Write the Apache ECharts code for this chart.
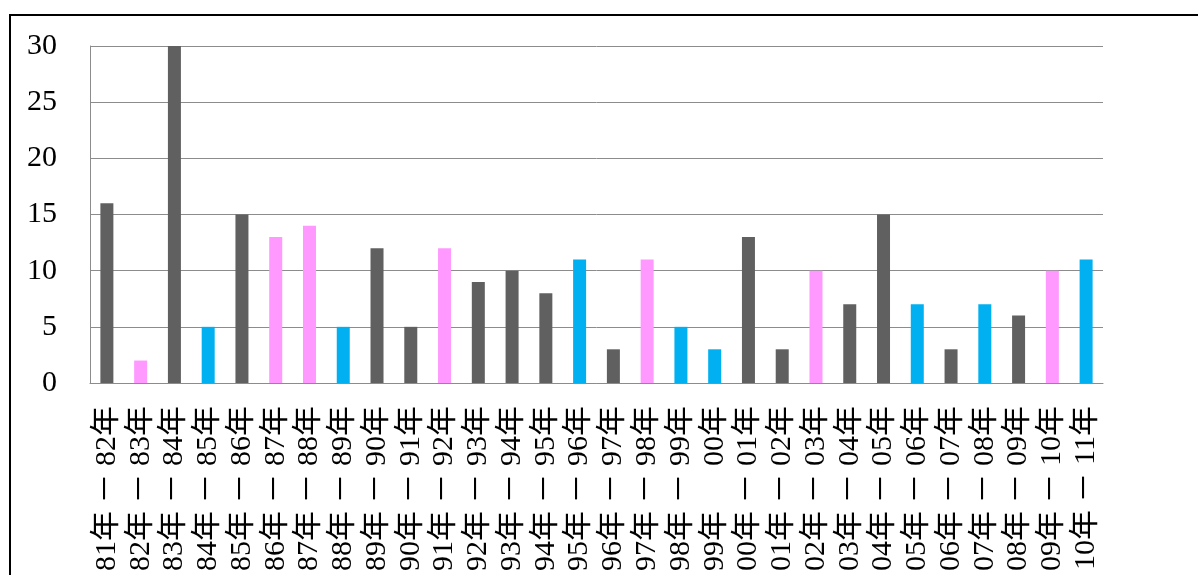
<!DOCTYPE html>
<html>
<head>
<meta charset="utf-8">
<script src="https://cdn.jsdelivr.net/npm/echarts@6/dist/echarts.min.js"></script>
<style>
html,body{margin:0;padding:0;background:#fff;}
#chart{width:1198px;height:575px;}
</style>
</head>
<body>
<div id="chart"></div>
<script>
const categories = ['81年 － 82年','82年 － 83年','83年 － 84年','84年 － 85年','85年 － 86年','86年 － 87年','87年 － 88年','88年 － 89年','89年 － 90年','90年 － 91年','91年 － 92年','92年 － 93年','93年 － 94年','94年 － 95年','95年 － 96年','96年 － 97年','97年 － 98年','98年 － 99年','99年 　 00年','00年 － 01年','01年 － 02年','02年 － 03年','03年 － 04年','04年 － 05年','05年 － 06年','06年 － 07年','07年 － 08年','08年 － 09年','09年 － 10年','10年 － 11年'];
const values = [16,2,30,5,15,13,14,5,12,5,12,9,10,8,11,3,11,5,3,13,3,10,7,15,7,3,7,6,10,11];
const groups = ['g','p','g','b','g','p','p','b','g','g','p','g','g','g','b','g','p','b','b','g','g','p','g','g','b','g','b','g','p','b'];
const yTicks = [0,5,10,15,20,25,30];

const palette = {g:'#606060', p:'#ff99ff', b:'#00b0f0'};
const serif = "'Liberation Serif','DejaVu Serif','Noto Sans CJK JP',serif";

const chart = echarts.init(document.getElementById('chart'));
chart.setOption({
  animation:false,
  backgroundColor:'#ffffff',
  grid:{left:90, right:95, top:46, bottom:192, containLabel:false},
  graphic:[{
    type:'polyline',
    shape:{points:[[10,575],[10,15],[1198,15]]},
    style:{stroke:'#000', lineWidth:2, fill:null},
    silent:true
  }],
  xAxis:{
    type:'category',
    data:categories,
    axisLine:{show:true, lineStyle:{color:'#8c8c8c', width:1}},
    axisTick:{show:false},
    axisLabel:{rotate:90, interval:0, margin:23, color:'#000', fontSize:30, fontFamily:serif},
    splitLine:{show:false}
  },
  yAxis:{
    type:'value',
    min:yTicks[0], max:yTicks[yTicks.length-1], interval:5,
    axisLine:{show:true, lineStyle:{color:'#8c8c8c', width:1}},
    axisTick:{show:false},
    axisLabel:{margin:33, color:'#000', fontSize:30, fontFamily:serif, align:'right'},
    splitLine:{show:true, lineStyle:{color:'#8c8c8c', width:1}}
  },
  series:[{
    type:'bar',
    barWidth:13,
    data:values.map((v,i)=>({value:v, itemStyle:{color:palette[groups[i]]}}))
  }]
});
</script>
</body>
</html>
